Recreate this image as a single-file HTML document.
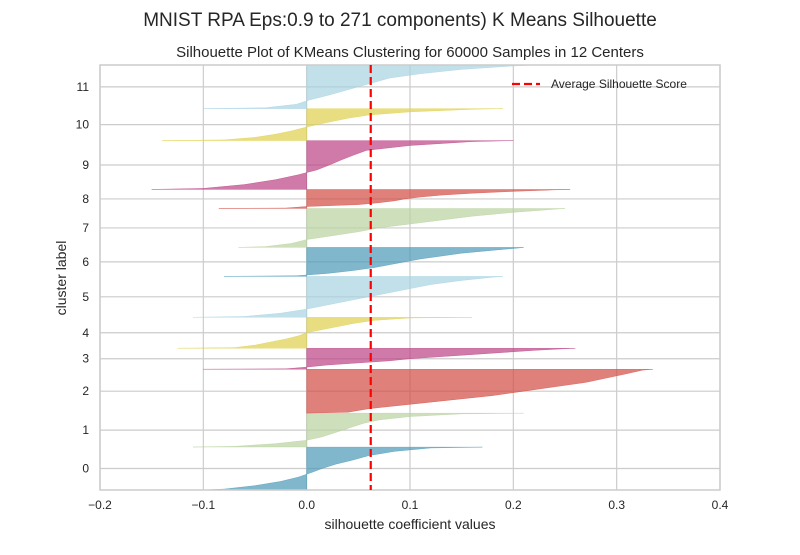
<!DOCTYPE html>
<html><head><meta charset="utf-8"><style>
body{margin:0;background:#fff;}
svg text{font-family:"Liberation Sans","DejaVu Sans",sans-serif;fill:#262626;}
</style></head><body>
<svg id="chart" width="800" height="550" viewBox="0 0 800 550" xmlns="http://www.w3.org/2000/svg">
<text x="400" y="26" font-size="19" text-anchor="middle">MNIST RPA Eps:0.9 to 271 components) K Means Silhouette</text>
<text x="410" y="57" font-size="15" text-anchor="middle">Silhouette Plot of KMeans Clustering for 60000 Samples in 12 Centers</text>
<g id="grid"></g>
<g id="marks"></g>
<g id="axes"></g>
<text x="410" y="529" font-size="14" text-anchor="middle">silhouette coefficient values</text>
<text x="66" y="278" font-size="14" text-anchor="middle" transform="rotate(-90 66 278)">cluster label</text>
</svg>
<script>
const clusterLabels=["0","1","2","3","4","5","6","7","8","9","10","11"];
const clusterSizes=[6060,4790,6200,2960,4370,5780,4090,5500,2680,6900,4510,6160];
const profileFractions=[0,0.02,0.1,0.2,0.3,0.4,0.5,0.6,0.7,0.8,0.9,0.98,1];
const profile0=[-0.1,-0.08,-0.05,-0.025,-0.008,0.004,0.015,0.028,0.045,0.06,0.085,0.12,0.17];
const profile1=[-0.11,-0.07,-0.03,0.0,0.015,0.025,0.035,0.045,0.055,0.07,0.1,0.15,0.21];
const profile2=[0.0,0.04,0.06,0.1,0.14,0.18,0.21,0.24,0.27,0.29,0.31,0.325,0.335];
const profile3=[-0.1,-0.02,0.0,0.02,0.05,0.08,0.1,0.13,0.16,0.19,0.22,0.25,0.26];
const profile4=[-0.125,-0.07,-0.05,-0.035,-0.02,-0.008,0.0,0.015,0.03,0.045,0.065,0.1,0.16];
const profile5=[-0.11,-0.06,-0.025,0.0,0.02,0.04,0.06,0.08,0.1,0.12,0.15,0.18,0.19];
const profile6=[-0.08,-0.01,0.02,0.045,0.065,0.08,0.095,0.11,0.13,0.15,0.18,0.205,0.21];
const profile7=[-0.066,-0.04,-0.015,0.0,0.025,0.05,0.07,0.1,0.13,0.16,0.2,0.24,0.25];
const profile8=[-0.085,-0.02,0.0,0.05,0.07,0.085,0.095,0.11,0.13,0.16,0.2,0.24,0.255];
const profile9=[-0.15,-0.1,-0.06,-0.03,-0.008,0.01,0.022,0.033,0.045,0.058,0.1,0.16,0.2];
const profile10=[-0.14,-0.08,-0.05,-0.03,-0.015,-0.003,0.01,0.025,0.04,0.06,0.1,0.16,0.19];
const profile11=[-0.1,-0.04,-0.01,0.003,0.02,0.035,0.05,0.065,0.08,0.11,0.15,0.2,0.22];
const profiles=[profile0,profile1,profile2,profile3,profile4,profile5,profile6,profile7,profile8,profile9,profile10,profile11];
const avgScore=0.062;
const xTicks=[-0.2,-0.1,0.0,0.1,0.2,0.3,0.4];
const xTickLabels=["\u22120.2","\u22120.1","0.0","0.1","0.2","0.3","0.4"];

const colors=["#4a98b7","#b8d19e","#d34a41","#ba4183","#ded04c","#a6d3e1"];
const L=100,R=720,T=65,B=490,gap=10;
const total=clusterSizes.reduce((a,b)=>a+b,0)+gap*(clusterSizes.length+1);
const xs=v=>L+(v-(-0.2))/(0.6)*(R-L);
const ys=v=>B-v/total*(B-T);
const NS="http://www.w3.org/2000/svg";
function mk(tag,attrs,parent){const e=document.createElementNS(NS,tag);for(const k in attrs)e.setAttribute(k,attrs[k]);parent.appendChild(e);return e;}
const grid=document.getElementById('grid'),marks=document.getElementById('marks'),axes=document.getElementById('axes');
const clip=mk('clipPath',{id:'pc'},document.getElementById('chart'));
mk('rect',{x:L,y:T,width:R-L,height:B-T},clip);
marks.setAttribute('clip-path','url(#pc)');

xTicks.forEach((t,i)=>{
  const l=mk('line',{x1:xs(t),x2:xs(t),y1:T,y2:B,stroke:'#cccccc','stroke-width':1.2},grid);
  
  
  const tx=mk('text',{x:xs(t),y:B+19,'font-size':12,'text-anchor':'middle'},axes);
  tx.textContent=xTickLabels[i];
  
  
});
let yLower=gap;
clusterSizes.forEach((n,i)=>{
  const prof=profiles[i];
  const yc=ys(yLower+0.5*n);
  const gl=mk('line',{x1:L,x2:R,y1:yc,y2:yc,stroke:'#cccccc','stroke-width':1.2},grid);
  
  
  const tl=mk('text',{x:L-11,y:yc+4,'font-size':12,'text-anchor':'end'},axes);
  tl.textContent=clusterLabels[i];
  
  
  let d=`M${xs(0)},${ys(yLower)}`;
  profileFractions.forEach((f,j)=>{d+=` L${xs(prof[j])},${ys(yLower+f*n)}`;});
  d+=` L${xs(0)},${ys(yLower+n)} Z`;
  const p=mk('path',{d:d,fill:colors[i%6],'fill-opacity':0.7,stroke:colors[i%6],'stroke-opacity':0.7,'stroke-width':0.5},marks);
  
  
  yLower+=n+gap;
});
const frame=mk('rect',{x:L,y:T,width:R-L,height:B-T,fill:'none',stroke:'#cccccc','stroke-width':1.5},axes);


const avg=mk('line',{x1:xs(avgScore),x2:xs(avgScore),y1:T,y2:B,stroke:'#ff0000','stroke-width':2.2,'stroke-dasharray':'8,4'},axes);


const lg=mk('g',{},axes);


mk('line',{x1:512,x2:540,y1:84,y2:84,stroke:'#ff0000','stroke-width':2.2,'stroke-dasharray':'8,4'},lg);
const lt=mk('text',{x:551,y:88,'font-size':12},lg);
lt.textContent='Average Silhouette Score';


</script>
</body></html>
